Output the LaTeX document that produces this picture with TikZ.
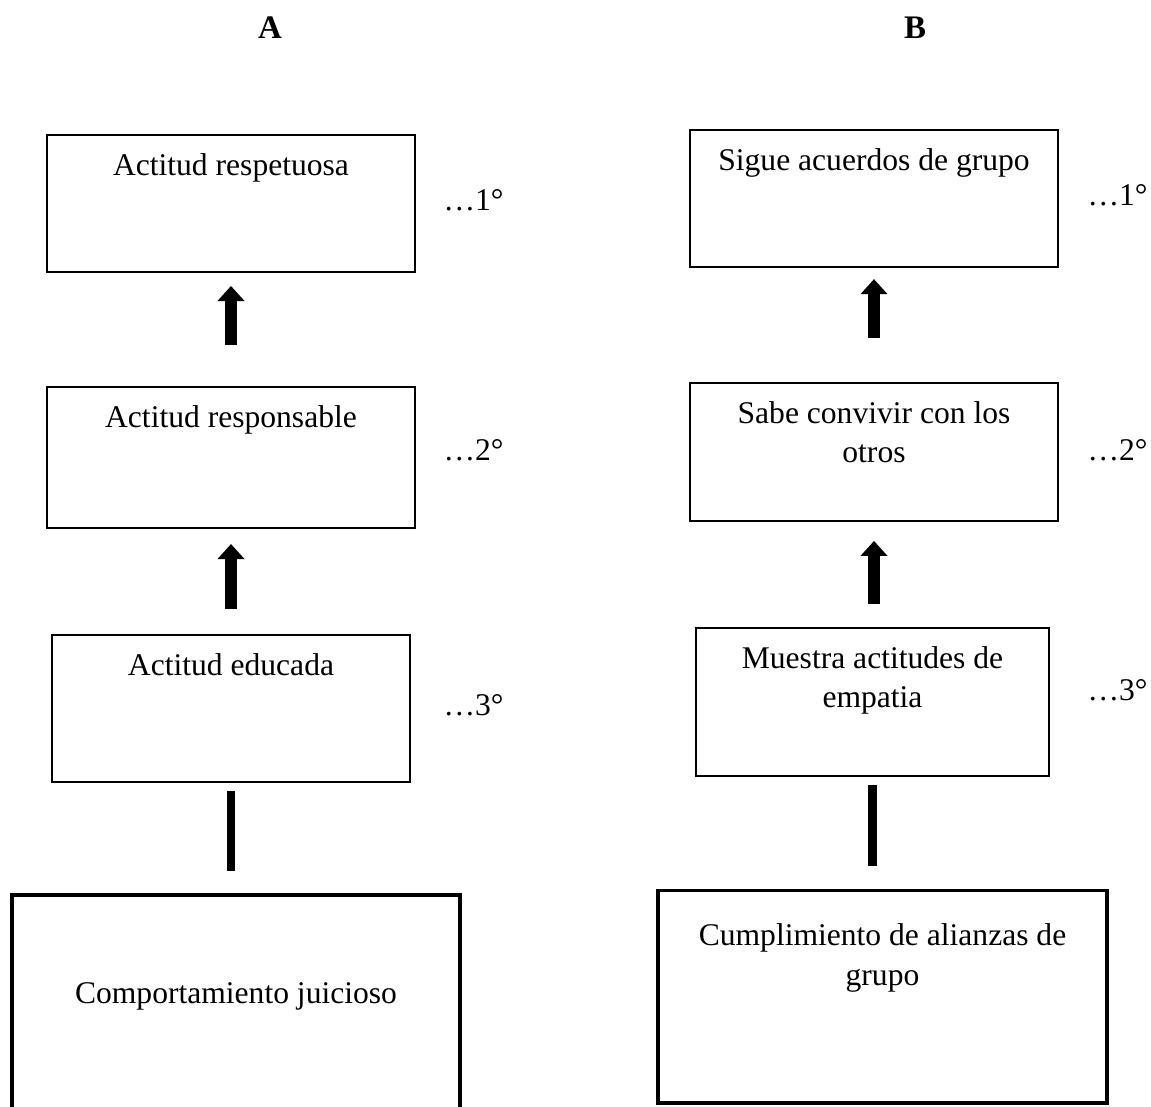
\documentclass[tikz,border=0pt]{standalone}
\usepackage{fontspec}
\setmainfont{Liberation Serif}
\usetikzlibrary{arrows.meta}
\begin{document}
\begin{tikzpicture}[x=0.38pt, y=-0.38pt, font=\fontsize{12}{15}\selectfont]
% Styles for the level boxes
\tikzstyle{stage} = [rectangle, draw, line width=0.8pt, inner sep=0pt]
\tikzstyle{stagetext} = [anchor=north, align=center, inner sep=0pt, yshift=-7.2pt]
\tikzstyle{rank} = [anchor=west, inner sep=0pt]
\tikzstyle{uparrow} = [line width=4.9pt, -{Triangle[width=10.3pt, length=5.7pt, line width=0pt]}]
\tikzstyle{bar} = [line width=3.4pt]

\clip (0,0) rectangle (1151,1106);

% Column headers
\node[font=\fontsize{12.5}{15}\bfseries] (headA) at (270,28) {A};
\node[font=\fontsize{12.5}{15}\bfseries] (headB) at (915,28) {B};

% Column A
\node[stage, minimum width=139.8pt, minimum height=52.1pt, label={[stagetext]north:Actitud respetuosa}] (a1) at (231,203.5) {};
\node[stage, minimum width=139.8pt, minimum height=53.6pt, label={[stagetext]north:Actitud responsable}] (a2) at (231,457.5) {};
\node[stage, minimum width=136.0pt, minimum height=55.9pt, label={[stagetext]north:Actitud educada}] (a3) at (231,708.5) {};
\node[stage, line width=1.2pt, minimum width=170.2pt, minimum height=89.7pt, label={[stagetext, yshift=-26.3pt]north:Comportamiento juicioso}] (a4) at (236,1013) {};

% Column B
\node[stage, minimum width=139.8pt, minimum height=52.1pt, label={[stagetext]north:Sigue acuerdos de grupo}] (b1) at (874,198.5) {};
\node[stage, minimum width=139.8pt, minimum height=52.4pt, label={[stagetext]north:Sabe convivir con los\\otros}] (b2) at (874,452) {};
\node[stage, minimum width=134.1pt, minimum height=56.2pt, label={[stagetext]north:Muestra actitudes de\\empatia}] (b3) at (872.5,702) {};
\node[stage, line width=1.2pt, minimum width=170.6pt, minimum height=80.9pt, label={[stagetext, yshift=-6.1pt]north:Cumplimiento de alianzas de\\grupo}] (b4) at (882.5,996.5) {};

% Rank labels
\node[rank] (r1a) at (443,200) {\ldots1°};
\node[rank] (r2a) at (443,450) {\ldots2°};
\node[rank] (r3a) at (443,705) {\ldots3°};
\node[rank] (r1b) at (1087,195) {\ldots1°};
\node[rank] (r2b) at (1087,450) {\ldots2°};
\node[rank] (r3b) at (1087,690) {\ldots3°};

% Arrows between levels
\draw[uparrow, shorten <=15.6pt, shorten >=4.9pt] (a2) -- (a1);
\draw[uparrow, shorten <=9.5pt, shorten >=5.7pt] (a3) -- (a2);
\draw[uparrow, shorten <=16.7pt, shorten >=4.2pt] (b2) -- (b1);
\draw[uparrow, shorten <=8.7pt, shorten >=7.2pt] (b3.north -| b2.south) -- (b2.south);

% Plain links to the base boxes
\draw[bar, shorten <=3pt, shorten >=8.4pt] (a3.south) -- (a3.south |- a4.north);
\draw[bar, shorten <=3pt, shorten >=8.4pt] (b3.south) -- (b3.south |- b4.north);
\end{tikzpicture}
\end{document}
